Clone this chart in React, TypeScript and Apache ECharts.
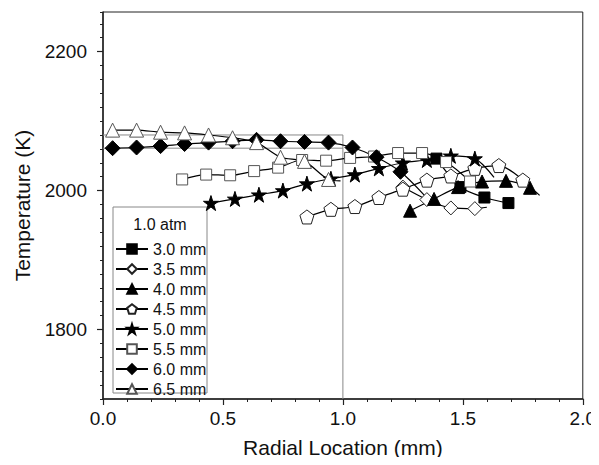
import React, { useEffect, useRef } from "react";
import * as echarts from "echarts";

const FONT = '"Liberation Sans", Arial, Helvetica, sans-serif';

const seriesNames = ["3.0 mm", "3.5 mm", "4.0 mm", "4.5 mm", "5.0 mm", "5.5 mm", "6.0 mm", "6.5 mm"];

const s30 = [[1.39, 2046], [1.49, 2005], [1.59, 1990], [1.69, 1982]];
const s35 = [[1.25, 2005], [1.35, 1987], [1.45, 1975], [1.55, 1974]];
const s35Tail = [[1.6, 1976]];
const s40 = [[1.28, 1971], [1.38, 1988], [1.48, 2005], [1.58, 2013], [1.68, 2014], [1.78, 2004]];
const s40Tail = [[1.82, 1993]];
const s45 = [[0.85, 1962], [0.95, 1973], [1.05, 1977], [1.15, 1990], [1.25, 2002], [1.35, 2015], [1.45, 2021], [1.55, 2032], [1.65, 2036], [1.75, 2015]];
const s50 = [[0.45, 1982], [0.55, 1988], [0.65, 1994], [0.75, 2000], [0.85, 2010], [0.95, 2017], [1.05, 2023], [1.15, 2032], [1.25, 2040], [1.35, 2044], [1.45, 2050], [1.55, 2046]];
const s50Tail = [[1.63, 2019]];
const s55 = [[0.33, 2016], [0.43, 2023], [0.53, 2022], [0.63, 2028], [0.73, 2033], [0.83, 2044], [0.93, 2043], [1.03, 2047], [1.13, 2049], [1.23, 2054], [1.33, 2054], [1.43, 2041], [1.53, 2013]];
const s60 = [[0.04, 2061], [0.14, 2062], [0.24, 2064], [0.34, 2067], [0.44, 2069], [0.54, 2071], [0.64, 2073], [0.74, 2071], [0.84, 2070], [0.94, 2069], [1.04, 2062], [1.14, 2048], [1.24, 2027]];
const s60Tail = [[1.34, 1993]];
const s65 = [[0.04, 2087], [0.14, 2087], [0.24, 2084], [0.34, 2083], [0.44, 2080], [0.54, 2076], [0.64, 2069], [0.74, 2048], [0.84, 2042], [0.94, 2016]];
const s65Tail = [[0.99, 2014]];

const insetOuter = [[0, 2080], [1.0, 2080], [1.0, 1700]];
const insetInner = [[0, 2061], [1.0, 2061]];

const xTickLabels = [0, 0.5, 1.0, 1.5, 2.0];
const yTickLabels = [1800, 2000, 2200];

const STAR = "path://M100 0 L122.45 69.1 L195.1 69.1 L136.3 111.8 L158.8 180.9 L100 138.2 L41.2 180.9 L63.7 111.8 L4.9 69.1 L77.55 69.1 Z";
const PENTAGON = "path://M100 0 L195.1 69.1 L158.8 180.9 L41.2 180.9 L4.9 69.1 Z";

const styles: Record<string, { symbol: string; size: number | number[]; fill: string; stroke: string }> = {
  "3.0 mm": { symbol: "rect", size: 11, fill: "#000", stroke: "#000" },
  "3.5 mm": { symbol: "diamond", size: 14, fill: "#fff", stroke: "#222" },
  "4.0 mm": { symbol: "triangle", size: 13, fill: "#000", stroke: "#000" },
  "4.5 mm": { symbol: PENTAGON, size: 14, fill: "#fff", stroke: "#222" },
  "5.0 mm": { symbol: STAR, size: 15, fill: "#000", stroke: "#000" },
  "5.5 mm": { symbol: "rect", size: 11, fill: "#fff", stroke: "#555" },
  "6.0 mm": { symbol: "diamond", size: 15, fill: "#000", stroke: "#000" },
  "6.5 mm": { symbol: "triangle", size: 14, fill: "#fff", stroke: "#555" },
};

const seriesData: Record<string, { pts: number[][]; tail: number[][] }> = {
  "3.0 mm": { pts: s30, tail: [] },
  "3.5 mm": { pts: s35, tail: s35Tail },
  "4.0 mm": { pts: s40, tail: s40Tail },
  "4.5 mm": { pts: s45, tail: [] },
  "5.0 mm": { pts: s50, tail: s50Tail },
  "5.5 mm": { pts: s55, tail: [] },
  "6.0 mm": { pts: s60, tail: s60Tail },
  "6.5 mm": { pts: s65, tail: s65Tail },
};

export default function App() {
  const ref = useRef<HTMLDivElement>(null);
  useEffect(() => {
    if (!ref.current) return;
    const chart = echarts.init(ref.current, undefined, { renderer: "svg" });
    const yMin = 1700;
    const yMax = 2257;
    const dataSeries = seriesNames.map((name) => {
      const st = styles[name];
      const d = seriesData[name];
      const data: any[] = d.pts.map((p) => ({ value: p }));
      d.tail.forEach((p) => data.push({ value: p, symbol: "none" }));
      return {
        name,
        type: "line",
        data,
        smooth: 0.3,
        symbol: st.symbol,
        symbolSize: st.size,
        showAllSymbol: true,
        lineStyle: { color: "#000", width: 1.2 },
        itemStyle: { color: st.fill, borderColor: st.stroke, borderWidth: 1 },
        emphasis: { disabled: true },
        z: 3,
      };
    });
    const insetStyle = { color: "#888", width: 1 };
    const option: any = {
      animation: false,
      backgroundColor: "#fff",
      textStyle: { fontFamily: FONT },
      grid: {
        left: 103,
        right: 15,
        top: 12,
        bottom: 66,
        show: true,
        borderColor: "#222",
        borderWidth: 1,
        backgroundColor: "transparent",
      },
      legend: {
        orient: "vertical",
        left: 110,
        top: 236,
        itemWidth: 32,
        itemHeight: 12,
        itemGap: 4,
        data: seriesNames,
        textStyle: { fontSize: 16, lineHeight: 16, color: "#111", fontFamily: FONT },
        selectedMode: false,
      },
      graphic: [
        {
          type: "rect",
          shape: { x: 113, y: 207, width: 94, height: 186 },
          style: { fill: "none", stroke: "#888", lineWidth: 1 },
          z: 1,
        },
        {
          type: "text",
          x: 160,
          y: 224,
          style: {
            text: "1.0 atm",
            fontSize: 16,
            fontFamily: FONT,
            fill: "#111",
            align: "center",
            verticalAlign: "middle",
          },
          z: 5,
        },
      ],
      xAxis: [
        {
          type: "value",
          min: 0,
          max: 2,
          interval: 0.5,
          name: "Radial Location (mm)",
          nameLocation: "middle",
          nameGap: 38,
          nameTextStyle: { fontSize: 21, color: "#111", fontFamily: FONT },
          axisLine: { show: true, lineStyle: { color: "#222", width: 1.5 } },
          axisTick: { show: true, length: 6, lineStyle: { color: "#222", width: 1.2 } },
          minorTick: { show: true, splitNumber: 5, length: 3, lineStyle: { color: "#222", width: 1 } },
          axisLabel: {
            fontSize: 19,
            color: "#111",
            margin: 10,
            fontFamily: FONT,
            customValues: xTickLabels,
            formatter: (v: number) => v.toFixed(1),
          },
          splitLine: { show: false },
        },
      ],
      yAxis: [
        {
          type: "value",
          min: yMin,
          max: yMax,
          interval: 20,
          name: "Temperature (K)",
          nameLocation: "middle",
          nameGap: 70,
          nameTextStyle: { fontSize: 21, color: "#111", fontFamily: FONT },
          axisLine: { show: true, lineStyle: { color: "#222", width: 1.5 } },
          axisTick: { show: true, length: 3, lineStyle: { color: "#222", width: 1 } },
          axisLabel: {
            fontSize: 19,
            color: "#111",
            margin: 16,
            fontFamily: FONT,
            customValues: yTickLabels,
            formatter: (v: number) => String(v),
          },
          splitLine: { show: false },
        },
        {
          type: "value",
          min: yMin,
          max: yMax,
          position: "left",
          offset: 0,
          axisLine: { show: false },
          axisTick: { show: true, length: 6, customValues: yTickLabels, lineStyle: { color: "#222", width: 1.2 } },
          axisLabel: { show: false },
          splitLine: { show: false },
        },
      ],
      series: [
        {
          type: "line",
          data: insetOuter,
          symbol: "none",
          lineStyle: insetStyle,
          silent: true,
          z: 1,
        },
        {
          type: "line",
          data: insetInner,
          symbol: "none",
          lineStyle: insetStyle,
          silent: true,
          z: 1,
        },
        ...dataSeries,
      ],
    };
    chart.setOption(option);
    return () => chart.dispose();
  }, []);
  return <div ref={ref} style={{ width: 599, height: 465, margin: -8 }} />;
}
